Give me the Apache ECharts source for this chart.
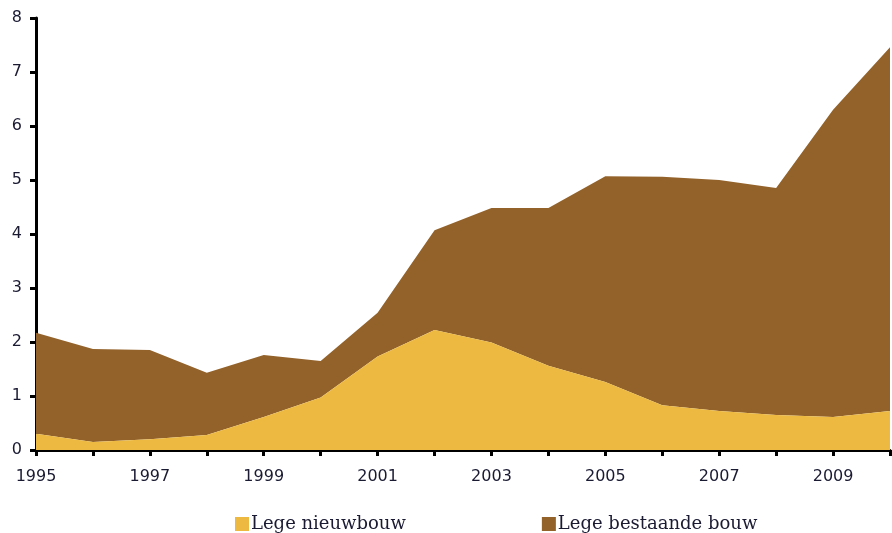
<!DOCTYPE html>
<html>
<head>
<meta charset="utf-8">
<script src="https://cdn.jsdelivr.net/npm/echarts@6/dist/echarts.min.js"></script>
<style>html,body{margin:0;padding:0;background:#fff}#c{width:892px;height:533px}</style>
</head>
<body>
<div id="c"></div>
<script>
const years = ['1995','1996','1997','1998','1999','2000','2001','2002','2003','2004','2005','2006','2007','2008','2009','2010'];
const legeNieuwbouw = [0.30,0.15,0.20,0.28,0.61,0.97,1.73,2.22,1.99,1.56,1.26,0.83,0.72,0.65,0.61,0.72];
const legeBestaandeBouw = [1.87,1.72,1.65,1.15,1.15,0.68,0.81,1.85,2.49,2.92,3.81,4.23,4.28,4.20,5.69,6.74];
const seriesNames = ['Lege nieuwbouw','Lege bestaande bouw'];

const chart = echarts.init(document.getElementById('c'), null, {renderer:'canvas'});
const labelColor = '#1a1a33';
chart.setOption({
  animation:false,
  grid:{left:36,right:2,top:18,bottom:83,containLabel:false},
  legend:{
    left:230, top:510, itemWidth:14, itemHeight:14, itemGap:136,
    icon:'rect',
    textStyle:{fontFamily:'DejaVu Serif', fontSize:18, color:labelColor, padding:[0,0,0,-3]},
    data:seriesNames
  },
  xAxis:{
    type:'category', data:years, boundaryGap:false,
    axisLine:{lineStyle:{color:'#000',width:3}},
    axisTick:{show:true, interval:0, length:6, lineStyle:{color:'#000',width:3}},
    axisLabel:{interval:1, fontFamily:'DejaVu Sans', fontSize:16, color:labelColor, margin:19},
    splitLine:{show:false}
  },
  yAxis:{
    type:'value', min:0, max:8, interval:1,
    axisLine:{show:true, lineStyle:{color:'#000',width:3}},
    axisTick:{show:true, length:6, lineStyle:{color:'#000',width:3}},
    axisLabel:{fontFamily:'DejaVu Sans', fontSize:16, color:labelColor, margin:14},
    splitLine:{show:false}
  },
  series:[
    {name:seriesNames[0], type:'line', stack:'a', data:legeNieuwbouw, symbol:'none',
     lineStyle:{width:0}, itemStyle:{color:'#EDB941'}, areaStyle:{color:'#EDB941', opacity:1}, z:2},
    {name:seriesNames[1], type:'line', stack:'a', data:legeBestaandeBouw, symbol:'none',
     lineStyle:{width:0}, itemStyle:{color:'#93622A'}, areaStyle:{color:'#93622A', opacity:1}, z:1}
  ]
});
</script>
</body>
</html>
